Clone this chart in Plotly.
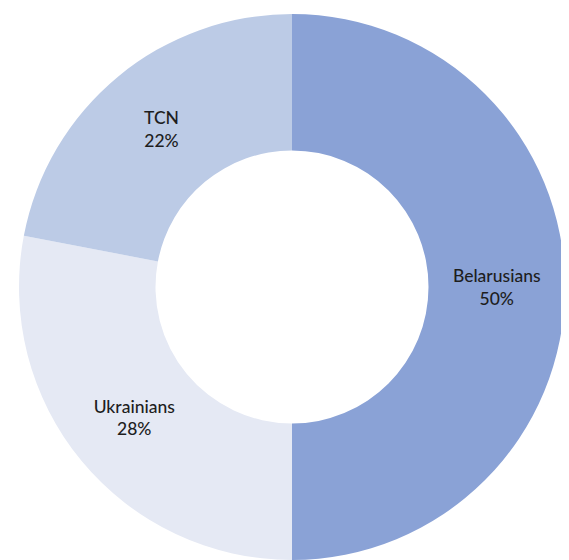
import plotly.graph_objects as go

labels = ["Belarusians", "Ukrainians", "TCN"]
values = [50, 28, 22]
colors = ["#8aa2d6", "#e5e9f4", "#bccbe6"]

# page body has an 8px default margin; figure sized to fit the window
W, H = 561, 552
fig = go.Figure(go.Pie(
    labels=labels,
    values=values,
    hole=0.5,
    sort=False,
    direction="clockwise",
    rotation=0,
    marker=dict(colors=colors, line=dict(width=0)),
    texttemplate="%{label}<br>%{percent:.0%}",
    textposition="inside",
    insidetextorientation="horizontal",
    textfont=dict(family="Lato", size=17.5, color="#1e1e1e", weight=500),
    showlegend=False,
    hoverinfo="label+percent",
    domain=dict(x=[11 / W, 557 / W], y=[0.0, 546 / H]),
))
fig.update_layout(
    width=W, height=H,
    margin=dict(l=0, r=0, t=0, b=0),
    paper_bgcolor="white",
    plot_bgcolor="white",
)
fig.write_html("out.html")
